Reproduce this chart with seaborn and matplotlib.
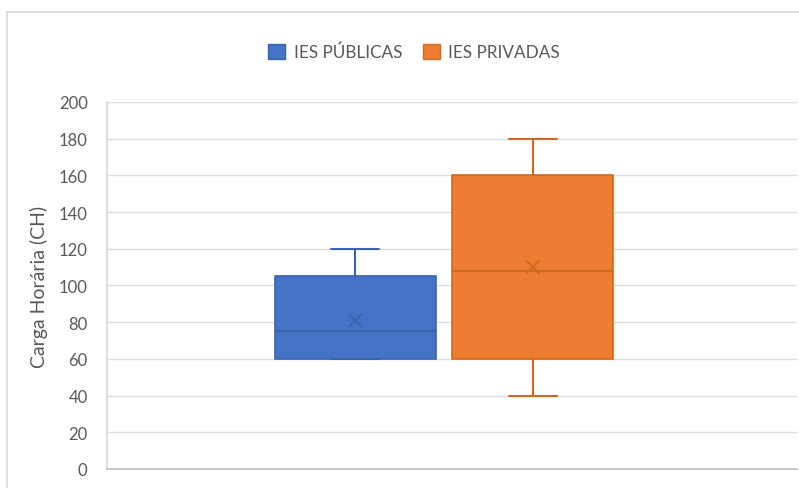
import matplotlib
matplotlib.use("Agg")
import matplotlib.pyplot as plt
import matplotlib.patches as mpatches
import seaborn as sns
import pandas as pd

# values (Excel box & whisker)
groups = ["IES PÚBLICAS", "IES PRIVADAS"]
mins = [60, 40]
q1s = [60, 60]
medians = [75, 108]
q3s = [105, 160]
maxs = [120, 180]
means = [81, 110]

fills = ["#4472C4", "#ED7D31"]
edges = ["#3A64B0", "#D0691F"]

sns.set_theme(style="white")
plt.rcParams["font.family"] = ["Lato", "DejaVu Sans"]

fig = plt.figure(figsize=(7.99, 4.89), dpi=100)
ax = fig.add_axes([0.134, 0.0389, 0.8636, 0.7505])

stats = []
for g, lo, a, m, b, hi, mu in zip(groups, mins, q1s, medians, q3s, maxs, means):
    stats.append(dict(label=g, whislo=lo, q1=a, med=m, q3=b, whishi=hi, mean=mu, fliers=[]))

pos = [0, 1]
for i in range(2):
    ax.bxp([stats[i]], positions=[pos[i]], widths=0.91, patch_artist=True,
           showmeans=False, showfliers=False, capwidths=0.27,
           boxprops=dict(facecolor=fills[i], edgecolor=edges[i], linewidth=1.2),
           medianprops=dict(color=edges[i], linewidth=1.5),
           whiskerprops=dict(color=edges[i], linewidth=1.5),
           capprops=dict(color=edges[i], linewidth=1.5),
           zorder=3)

mean_df = pd.DataFrame({"x": pos, "mean": means, "grupo": groups})
sns.scatterplot(data=mean_df, x="x", y="mean", hue="grupo", palette=edges,
                marker="x", s=90, linewidth=1.4, legend=False, ax=ax, zorder=4)

ax.set_xlim(-1.40, 2.49)
ax.set_ylim(0, 200)
ax.set_yticks(range(0, 201, 20))
ax.set_xticks([])
ax.set_xlabel("")
ax.set_ylabel("Carga Horária (CH)", fontsize=14, color="#595959", labelpad=8)
ax.tick_params(axis="y", labelsize=12, labelcolor="#595959", length=0, pad=14)
ax.grid(axis="y", color="#DEDEDE", linewidth=1.0)
ax.set_axisbelow(True)
for s in ["top", "right"]:
    ax.spines[s].set_visible(False)
ax.spines["left"].set_color("#D9D9D9")
ax.spines["bottom"].set_color("#BFBFBF")

handles = [mpatches.Patch(facecolor=fills[i], edgecolor=edges[i], label=groups[i]) for i in range(2)]
fig.legend(handles=handles, loc="center", bbox_to_anchor=(0.518, 0.892), ncol=2,
           frameon=False, fontsize=12.3, labelcolor="#595959", handlelength=1.0,
           handleheight=1.0, columnspacing=1.2, handletextpad=0.5)

# outer chart frame
fig.add_artist(plt.Line2D([0.009, 0.009], [0, 0.973], color="#D9D9D9", lw=1.2))
fig.add_artist(plt.Line2D([0.009, 1.0], [0.973, 0.973], color="#D9D9D9", lw=1.2))

fig.savefig("out.png", dpi=100)
